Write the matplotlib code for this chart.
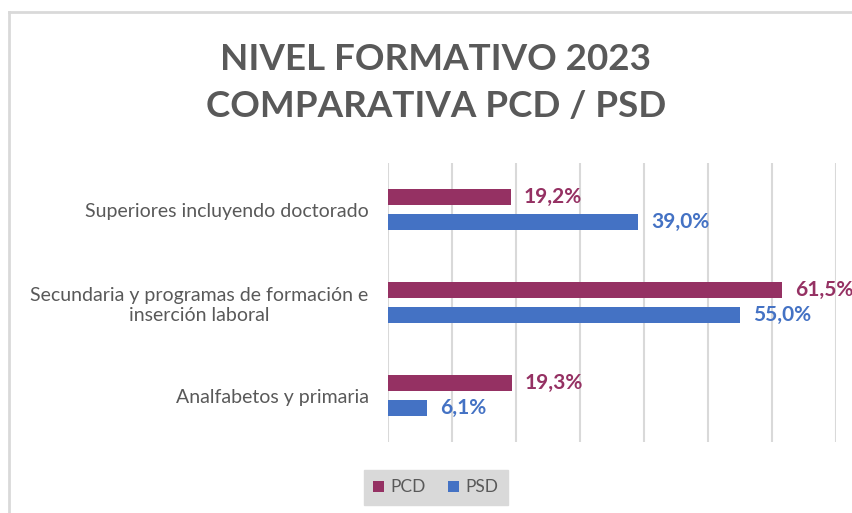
import matplotlib
matplotlib.use("Agg")
import matplotlib.pyplot as plt
import numpy as np
from matplotlib.patches import Patch
from matplotlib.lines import Line2D

categories = ["Analfabetos y primaria",
              "Secundaria y programas de formación e\ninserción laboral",
              "Superiores incluyendo doctorado"]
series_names = ["PCD", "PSD"]
pcd = [19.3, 61.5, 19.2]
psd = [6.1, 55.0, 39.0]
pcd_labels = ["19,3%", "61,5%", "19,2%"]
psd_labels = ["6,1%", "55,0%", "39,0%"]

c_pcd = "#953163"
c_psd = "#4472C4"
gray = "#595959"
grid = "#D9D9D9"

plt.rcParams['font.family'] = ['Lato', 'DejaVu Sans']

fig = plt.figure(figsize=(8.52, 5.13), dpi=100)
ax = fig.add_axes([388/852, 1-442/513, (836-388)/852, (442-163)/513])

y = np.arange(len(categories))
h = 0.17
off = 0.135
ax.barh(y + off, pcd, height=h, color=c_pcd, label="PCD", zorder=3)
ax.barh(y - off, psd, height=h, color=c_psd, label="PSD", zorder=3)

for yi, v, t in zip(y, pcd, pcd_labels):
    ax.annotate(t, (v, yi + off), xytext=(9.5, 0), textcoords="offset points",
                va="center", ha="left", color=c_pcd, fontsize=15, fontweight="bold",
                annotation_clip=False)
for yi, v, t in zip(y, psd, psd_labels):
    ax.annotate(t, (v, yi - off), xytext=(9.5, 0), textcoords="offset points",
                va="center", ha="left", color=c_psd, fontsize=15, fontweight="bold",
                annotation_clip=False)

ax.set_xlim(0, 70)
ax.set_ylim(-0.5, 2.5)
ax.set_xticks(np.arange(0, 71, 10))
ax.set_xticklabels([])
ax.tick_params(axis="x", length=0)
ax.set_yticks(y)
ax.set_yticklabels(categories, color=gray, fontsize=14, multialignment="center")
ax.tick_params(axis="y", length=0, pad=14)
ax.grid(axis="x", color=grid, linewidth=1.5, zorder=0)
for s in ax.spines.values():
    s.set_visible(False)

fig.text(436/852, 1-69.5/513, "NIVEL FORMATIVO 2023", ha="center", va="baseline",
         fontsize=26.5, fontweight="bold", color=gray)
fig.text(436/852, 1-117/513, "COMPARATIVA PCD / PSD", ha="center", va="baseline",
         fontsize=26.5, fontweight="bold", color=gray)

# outer chart border
fig.add_artist(Line2D([9/852, 9/852], [0, 1-12/513], transform=fig.transFigure,
                      color=grid, linewidth=2))
fig.add_artist(Line2D([9/852, 1], [1-12/513, 1-12/513], transform=fig.transFigure,
                      color=grid, linewidth=2))

handles = [Patch(facecolor=c_pcd), Patch(facecolor=c_psd)]
leg = fig.legend(handles, series_names, loc="center", bbox_to_anchor=(436/852, 1-487.5/513),
                 ncol=2, frameon=True, facecolor="#D9D9D9", edgecolor="#D9D9D9",
                 framealpha=1, fancybox=False, fontsize=12.5, handlelength=0.6,
                 handleheight=0.6, handletextpad=0.4, columnspacing=1.3,
                 borderpad=0.55)
for t in leg.get_texts():
    t.set_color(gray)

fig.savefig("out.png", dpi=100)
